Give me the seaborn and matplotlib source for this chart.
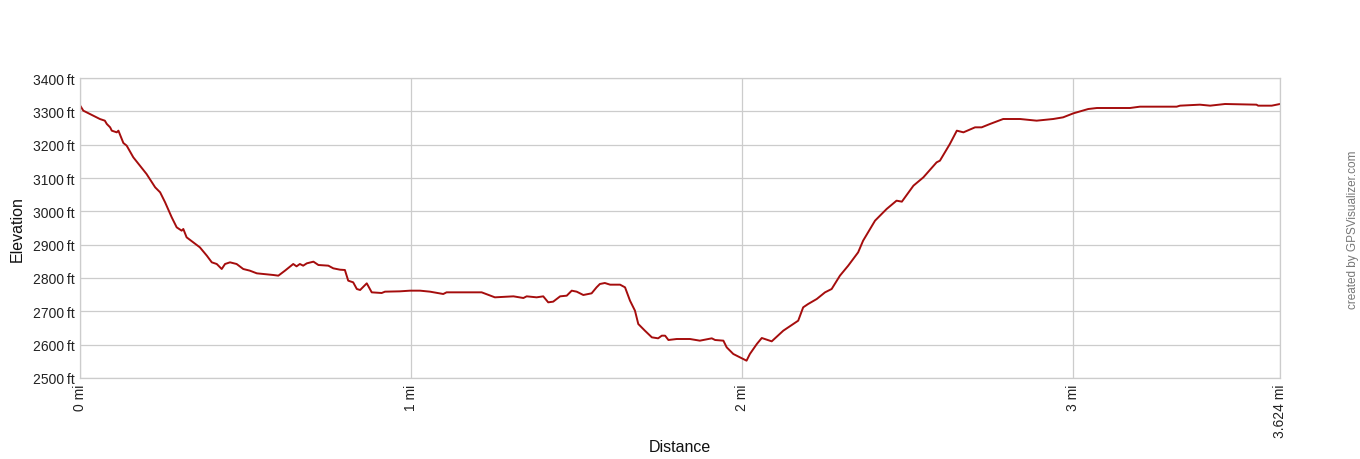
import matplotlib
matplotlib.use("Agg")
import matplotlib.pyplot as plt
import seaborn as sns
import pandas as pd

# track: distance in miles, elevation in feet
distance_mi = [
    0.000, 0.010, 0.040, 0.060, 0.075, 0.081, 0.091, 0.096, 0.111, 0.116,
    0.126, 0.131, 0.141, 0.161, 0.181, 0.201, 0.227, 0.242, 0.257, 0.277,
    0.292, 0.307, 0.312, 0.322, 0.342, 0.362, 0.383, 0.398, 0.413, 0.428,
    0.438, 0.453, 0.473, 0.493, 0.513, 0.534, 0.554, 0.584, 0.599, 0.619,
    0.644, 0.654, 0.664, 0.674, 0.685, 0.705, 0.720, 0.750, 0.765, 0.785,
    0.800, 0.810, 0.825, 0.836, 0.846, 0.866, 0.881, 0.911, 0.921, 0.966,
    0.997, 1.027, 1.057, 1.097, 1.107, 1.213, 1.253, 1.309, 1.339, 1.349,
    1.379, 1.399, 1.414, 1.429, 1.450, 1.470, 1.485, 1.500, 1.520, 1.545,
    1.560, 1.570, 1.585, 1.601, 1.631, 1.646, 1.661, 1.676, 1.686, 1.706,
    1.727, 1.746, 1.757, 1.767, 1.777, 1.802, 1.842, 1.872, 1.908, 1.918,
    1.943, 1.953, 1.973, 1.993, 2.013, 2.023, 2.044, 2.059, 2.089, 2.124,
    2.169, 2.184, 2.199, 2.225, 2.250, 2.270, 2.295, 2.320, 2.350, 2.365,
    2.401, 2.436, 2.466, 2.482, 2.517, 2.547, 2.587, 2.597, 2.627, 2.648,
    2.668, 2.703, 2.723, 2.748, 2.788, 2.839, 2.889, 2.939, 2.969, 3.000,
    3.045, 3.071, 3.171, 3.201, 3.312, 3.322, 3.382, 3.413, 3.458, 3.553,
    3.558, 3.599, 3.624,
]
elevation_ft = [
    3318, 3302, 3287, 3277, 3272, 3262, 3252, 3242, 3237, 3242,
    3217, 3205, 3197, 3162, 3137, 3112, 3072, 3057, 3027, 2982,
    2952, 2942, 2947, 2922, 2907, 2892, 2867, 2847, 2842, 2827,
    2842, 2847, 2842, 2827, 2822, 2814, 2812, 2809, 2807, 2822,
    2842, 2835, 2842, 2837, 2844, 2849, 2839, 2837, 2829, 2825,
    2824, 2792, 2787, 2767, 2764, 2784, 2757, 2755, 2759, 2760,
    2762, 2762, 2759, 2752, 2757, 2757, 2742, 2745, 2740, 2745,
    2742, 2745, 2727, 2729, 2745, 2747, 2762, 2759, 2749, 2754,
    2772, 2782, 2785, 2780, 2780, 2772, 2732, 2702, 2662, 2642,
    2622, 2619, 2627, 2627, 2614, 2617, 2617, 2612, 2619, 2614,
    2612, 2592, 2572, 2562, 2552, 2572, 2602, 2620, 2610, 2642,
    2672, 2712, 2722, 2737, 2757, 2767, 2807, 2837, 2877, 2912,
    2972, 3007, 3032, 3029, 3077, 3102, 3147, 3152, 3202, 3242,
    3237, 3252, 3252, 3262, 3277, 3277, 3272, 3277, 3282, 3294,
    3307, 3310, 3310, 3314, 3314, 3317, 3320, 3317, 3322, 3320,
    3317, 3317, 3322,
]

x_ticks = [0, 1, 2, 3, 3.624]
x_labels = ["0 mi", "1 mi", "2 mi", "3 mi", "3.624 mi"]
y_ticks = [2500, 2600, 2700, 2800, 2900, 3000, 3100, 3200, 3300, 3400]
y_labels = [f"{v}\u2009ft" for v in y_ticks]

sns.set_style("white")
plt.rcParams["font.family"] = ["Liberation Sans", "DejaVu Sans"]

df = pd.DataFrame({"Distance": distance_mi, "Elevation": elevation_ft})

fig = plt.figure(figsize=(13.6, 4.6), dpi=100)
ax = fig.add_axes([80 / 1360, 81 / 460, 1200 / 1360, 300 / 460])

sns.lineplot(data=df, x="Distance", y="Elevation", ax=ax,
             color="#a50d0d", linewidth=1.4)

ax.set_xlim(0, 3.624)
ax.set_ylim(2500, 3400)
ax.set_xticks(x_ticks)
ax.set_xticklabels(x_labels, rotation=90, fontsize=10, color="#222222")
ax.set_yticks(y_ticks)
ax.set_yticklabels(y_labels, fontsize=10, color="#222222")
ax.tick_params(length=0, pad=4)
ax.grid(True, color="#cccccc", linewidth=0.9)
for s in ax.spines.values():
    s.set_color("#cccccc")
    s.set_linewidth(0.9)

ax.set_xlabel("Distance", fontsize=11.5, color="#111111", va="center")
ax.set_ylabel("Elevation", fontsize=11.5, color="#111111", va="center")
ax.xaxis.set_label_coords(0.5, (379 - 448) / 300)
ax.yaxis.set_label_coords((17 - 80) / 1200, 0.5)

fig.text(1353 / 1360, 1 - 230 / 460, "created by GPSVisualizer.com",
         rotation=90, ha="center", va="center", fontsize=8.5, color="#777777")

fig.savefig("out.png", dpi=100, facecolor="white")
